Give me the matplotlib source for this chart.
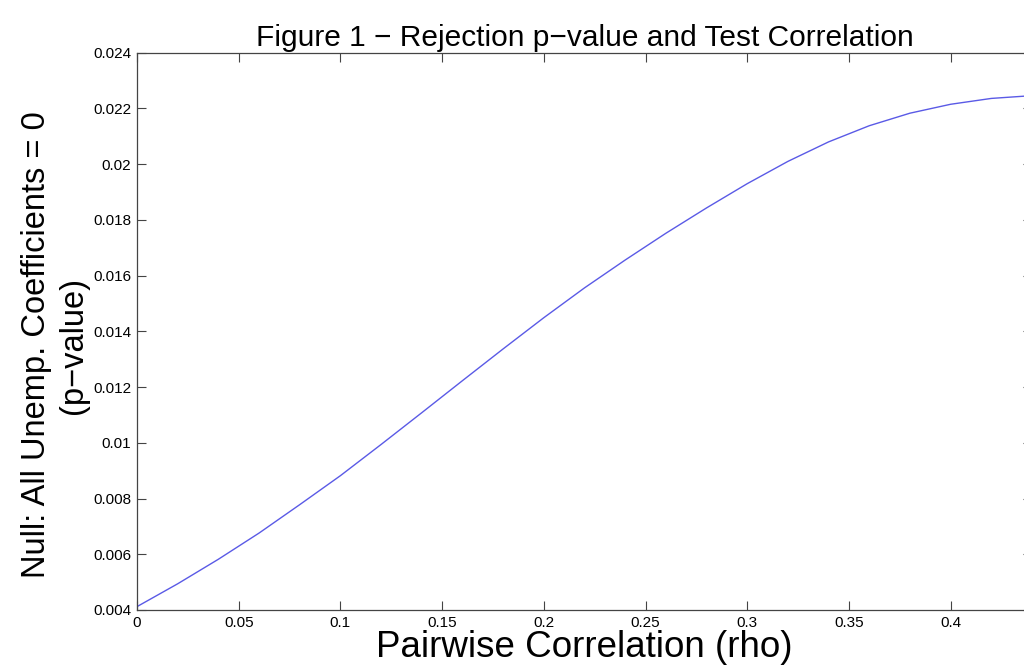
import matplotlib
matplotlib.use('Agg')
import matplotlib.pyplot as plt

plt.rcParams['font.family'] = ['Liberation Sans', 'DejaVu Sans']

# values
rho = [0.0, 0.02, 0.04, 0.06, 0.08, 0.10, 0.12, 0.14, 0.16, 0.18, 0.20,
       0.22, 0.24, 0.26, 0.28, 0.30, 0.32, 0.34, 0.36, 0.38, 0.40, 0.42, 0.44]
pval = [0.00412, 0.00494, 0.00582, 0.00676, 0.00778, 0.00882, 0.00994,
        0.01108, 0.01223, 0.01337, 0.01449, 0.01556, 0.01656, 0.01752,
        0.01843, 0.01930, 0.02010, 0.02080, 0.02138, 0.02183, 0.02215,
        0.02236, 0.02246]

xticks = [0, 0.05, 0.1, 0.15, 0.2, 0.25, 0.3, 0.35, 0.4]
yticks = [0.004, 0.006, 0.008, 0.01, 0.012, 0.014, 0.016, 0.018, 0.02, 0.022, 0.024]

fig = plt.figure(figsize=(10.24, 6.7), dpi=100)
ax = fig.add_axes([0.1338, 0.0896, 0.874, 0.8317])

ax.plot(rho, pval, color='#5a5ae6', lw=1.0)

ax.set_xlim(0, 0.44)
ax.set_ylim(0.004, 0.024)
ax.set_xticks(xticks)
ax.set_xticklabels(['%g' % v for v in xticks])
ax.set_yticks(yticks)
ax.set_yticklabels(['%g' % v for v in yticks])

for s in ax.spines.values():
    s.set_color('#444444')
    s.set_linewidth(0.9)
ax.tick_params(direction='in', length=6.5, width=0.8, color='#444444',
               top=True, right=True, labelsize=11, pad=4)

ax.set_title('Figure 1 \u2212 Rejection p\u2212value and Test Correlation',
             fontsize=21.5, pad=5)
ax.set_xlabel('Pairwise Correlation (rho)', fontsize=26.5, labelpad=0)
ax.set_ylabel('Null: All Unemp. Coefficients = 0\n(p\u2212value)',
              fontsize=23.5, linespacing=1.25)
ax.yaxis.set_label_coords(-0.054, 0.4755)

fig.savefig('out.png', dpi=100)
